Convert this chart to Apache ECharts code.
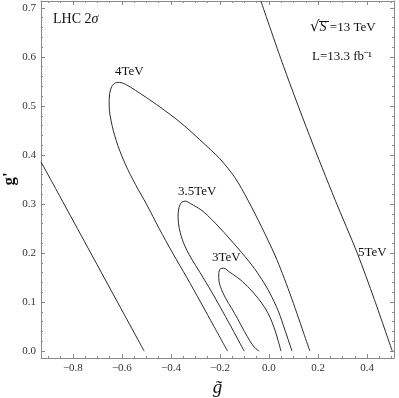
<!DOCTYPE html>
<html>
<head>
<meta charset="utf-8">
<script src="https://cdn.jsdelivr.net/npm/echarts@6/dist/echarts.min.js"></script>
<style>
  html, body { margin: 0; padding: 0; background: #fff; }
  #chart { width: 399px; height: 398px; }
</style>
</head>
<body>
<div id="chart"></div>
<script>
// contour lines, [g~, g']
const tevLeft = [[-0.93, 0.386], [-0.836, 0.30], [-0.727, 0.20], [-0.618, 0.10], [-0.509, 0]];
const tev5 = [[-0.033, 0.714], [0.06, 0.58], [0.165, 0.44], [0.27, 0.308], [0.36, 0.2], [0.43, 0.105], [0.503, 0]];
const tev4 = [
  [-0.169, 0], [-0.224, 0.05], [-0.279, 0.10], [-0.335, 0.15], [-0.393, 0.20], [-0.448, 0.25],
  [-0.500, 0.30], [-0.545, 0.34], [-0.585, 0.38], [-0.617, 0.42], [-0.640, 0.46], [-0.652, 0.50],
  [-0.650, 0.525], [-0.641, 0.540], [-0.627, 0.547], [-0.610, 0.548], [-0.585, 0.544], [-0.545, 0.532],
  [-0.500, 0.517], [-0.445, 0.498], [-0.363, 0.467], [-0.282, 0.431], [-0.2, 0.392], [-0.139, 0.354],
  [-0.086, 0.308], [-0.029, 0.252], [0.024, 0.196], [0.055, 0.158], [0.085, 0.118], [0.114, 0.077],
  [0.142, 0.036], [0.167, 0]
];
const tev35 = [
  [-0.101, 0], [-0.144, 0.04], [-0.188, 0.08], [-0.233, 0.12], [-0.281, 0.16], [-0.318, 0.19],
  [-0.348, 0.22], [-0.366, 0.25], [-0.371, 0.275], [-0.367, 0.293], [-0.357, 0.303], [-0.343, 0.306],
  [-0.320, 0.301], [-0.269, 0.285], [-0.2, 0.251], [-0.127, 0.210], [-0.069, 0.175], [-0.029, 0.146],
  [0.004, 0.118], [0.037, 0.083], [0.065, 0.043], [0.094, 0]
];
const tev3 = [
  [-0.040, 0], [-0.060, 0.008], [-0.078, 0.021], [-0.100, 0.040], [-0.128, 0.066], [-0.152, 0.087],
  [-0.176, 0.107], [-0.194, 0.126], [-0.204, 0.143], [-0.205, 0.158], [-0.198, 0.168], [-0.185, 0.169],
  [-0.160, 0.161], [-0.118, 0.146], [-0.078, 0.127], [-0.045, 0.108], [-0.016, 0.088], [0.005, 0.068],
  [0.021, 0.048], [0.037, 0.022], [0.049, 0]
];

const xTicks = [-0.8, -0.6, -0.4, -0.2, 0, 0.2, 0.4];
const yTicks = [0, 0.1, 0.2, 0.3, 0.4, 0.5, 0.6, 0.7];
const xMin = -0.93, xMax = 0.51, yMin = -0.014, yMax = 0.714;

// minor ticks every 0.05 / 0.02
const xMinor = [];
for (let i = -18; i <= 10; i++) if (i % 4 !== 0) xMinor.push(i * 0.05);
const yMinor = [];
for (let i = 0; i <= 35; i++) if (i % 5 !== 0) yMinor.push(i * 0.02);

const serif = 'Liberation Serif';
const frame = '#8a8a8a';
const fmt = v => v.toFixed(1).replace('-', '\u2212');

function xAx(pos, ticks, len, labels) {
  return {
    type: 'value', min: xMin, max: xMax, position: pos,
    axisLine: {show: len > 3, onZero: false, lineStyle: {color: frame, width: 1}},
    axisTick: {inside: true, length: len, customValues: ticks, lineStyle: {color: frame}},
    axisLabel: labels ? {customValues: ticks, formatter: fmt, color: '#333', fontFamily: serif, fontSize: 11, margin: 5} : {show: false},
    splitLine: {show: false}
  };
}
function yAx(pos, ticks, len, labels) {
  return {
    type: 'value', min: yMin, max: yMax, position: pos,
    axisLine: {show: len > 3, onZero: false, lineStyle: {color: frame, width: 1}},
    axisTick: {inside: true, length: len, customValues: ticks, lineStyle: {color: frame}},
    axisLabel: labels ? {customValues: ticks, formatter: fmt, color: '#333', fontFamily: serif, fontSize: 11, margin: 5} : {show: false},
    splitLine: {show: false}
  };
}

const xAxes = [xAx('bottom', xTicks, 4, true), xAx('top', xTicks, 4, false), xAx('bottom', xMinor, 2, false), xAx('top', xMinor, 2, false)];
xAxes[0].name = 'g\u0303';
xAxes[0].nameLocation = 'middle';
xAxes[0].nameGap = 20;
xAxes[0].nameTextStyle = {fontFamily: serif, fontStyle: 'italic', fontSize: 19, color: '#111'};
const yAxes = [yAx('left', yTicks, 4, true), yAx('right', yTicks, 4, false), yAx('left', yMinor, 2, false), yAx('right', yMinor, 2, false)];

const line = data => ({
  type: 'line', data: data, showSymbol: false, smooth: 0.3, clip: true,
  lineStyle: {color: '#2a2a2a', width: 1}, silent: true, animation: false
});

const txt = (left, top, text, size) => ({
  type: 'text', left: left, top: top,
  style: {text: text, font: (size || 13) + 'px "' + serif + '"', fill: '#111'}
});

const chart = echarts.init(document.getElementById('chart'));
chart.setOption({
  animation: false,
  grid: {left: 41, right: 5, top: 1, bottom: 40, containLabel: false, outerBoundsMode: 'none'},
  xAxis: xAxes,
  yAxis: yAxes,
  series: [line(tevLeft), line(tev5), line(tev4), line(tev35), line(tev3)],
  graphic: [
    {
      type: 'text', x: 10, y: 179, rotation: Math.PI / 2,
      style: {text: "g'", font: 'bold 17px "' + serif + '"', fill: '#111', align: 'center', verticalAlign: 'middle'}
    },
    {
      type: 'text', left: 53, top: 12,
      style: {
        text: '{a|LHC 2}{b|\u03c3}',
        rich: {
          a: {fontFamily: serif, fontSize: 14, fill: '#111'},
          b: {fontFamily: serif, fontSize: 14, fontStyle: 'italic', fill: '#111'}
        }
      }
    },
    {
      type: 'text', left: 310, top: 20,
      style: {
        text: '{a|\u221a}{b|S}{c| =13 TeV}',
        rich: {
          a: {fontFamily: 'DejaVu Serif', fontSize: 15, fill: '#111'},
          b: {fontFamily: serif, fontSize: 14, fontStyle: 'italic', fill: '#111'},
          c: {fontFamily: serif, fontSize: 13, fill: '#111'}
        }
      }
    },
    {type: 'line', shape: {x1: 319, y1: 21.5, x2: 329, y2: 21.5}, style: {stroke: '#111', lineWidth: 1}},
    txt(312, 50, 'L=13.3 fb\u207b\u00b9'),
    txt(115, 65, '4TeV'),
    txt(178, 185, '3.5TeV'),
    txt(212, 251, '3TeV'),
    txt(358, 246, '5TeV')
  ]
});
</script>
</body>
</html>
